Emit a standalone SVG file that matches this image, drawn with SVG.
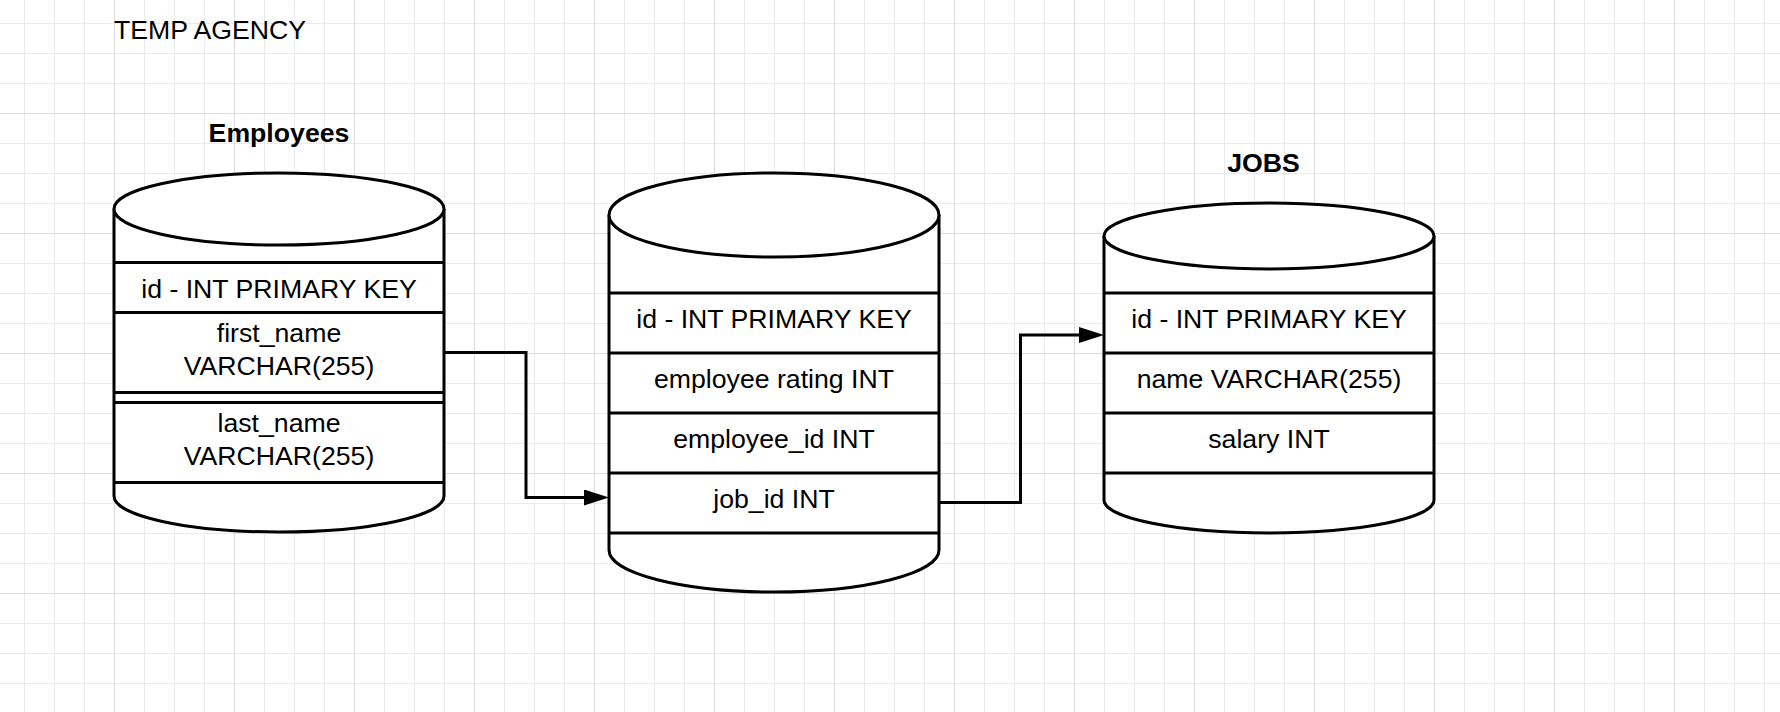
<svg xmlns="http://www.w3.org/2000/svg" width="1780" height="712" viewBox="0 0 1780 712">
  <defs>
    <pattern id="gridMinor" x="24" y="23" width="30" height="30" patternUnits="userSpaceOnUse">
      <path d="M0.5 0 V30 M0 0.5 H30" fill="none" stroke="#ebebeb" stroke-width="1"/>
    </pattern>
    <pattern id="gridMajor" x="114" y="113" width="120" height="120" patternUnits="userSpaceOnUse">
      <path d="M0.5 0 V120 M0 0.5 H120" fill="none" stroke="#dcdcdc" stroke-width="1"/>
    </pattern>
    <marker id="arrow" markerUnits="userSpaceOnUse" markerWidth="26" markerHeight="18" refX="0" refY="8" orient="auto">
      <path d="M0,0 L25,8 L0,16 Z" fill="#000"/>
    </marker>
    <style>
      .shape { fill: #ffffff; stroke: #000000; stroke-width: 3; }
      .row { stroke: #000000; stroke-width: 3; fill: none; }
      .t { font-family: "Liberation Sans", Arial, sans-serif; font-size: 26.67px; fill: #000000; text-anchor: middle; }
      .title { font-family: "Liberation Sans", Arial, sans-serif; font-size: 26.67px; font-weight: bold; fill: #000000; text-anchor: middle; }
      .conn { fill: none; stroke: #000000; stroke-width: 3; }
    </style>
  </defs>

  <rect x="0" y="0" width="1780" height="712" fill="#ffffff"/>
  <rect x="0" y="0" width="1780" height="712" fill="url(#gridMinor)"/>
  <rect x="0" y="0" width="1780" height="712" fill="url(#gridMajor)"/>

  <g id="heading">
    <text x="114" y="39" font-family="Liberation Sans, Arial, sans-serif" font-size="26.67" fill="#000">TEMP AGENCY</text>
  </g>

  <g id="employees">
    <text class="title" x="279" y="142">Employees</text>
    <path class="shape" d="M114,209 V496 A165,36 0 0 0 444,496 V209"/>
    <ellipse class="shape" cx="279" cy="209" rx="165" ry="36"/>
    <path class="row" d="M114,262.5 H444 M114,312.5 H444 M114,392.5 H444 M114,402.5 H444 M114,482.5 H444"/>
    <text class="t" x="279" y="297.5">id - INT PRIMARY KEY</text>
    <text class="t" x="279" y="341.7">first_name</text>
    <text class="t" x="279" y="375">VARCHAR(255)</text>
    <text class="t" x="279" y="431.7">last_name</text>
    <text class="t" x="279" y="465">VARCHAR(255)</text>
  </g>

  <g id="link-table">
    <path class="shape" d="M609,215 V550 A165,42 0 0 0 939,550 V215"/>
    <ellipse class="shape" cx="774" cy="215" rx="165" ry="42"/>
    <path class="row" d="M609,293 H939 M609,353 H939 M609,413 H939 M609,473 H939 M609,533 H939"/>
    <text class="t" x="774" y="328.3">id - INT PRIMARY KEY</text>
    <text class="t" x="774" y="388.3">employee rating INT</text>
    <text class="t" x="774" y="448.3">employee_id INT</text>
    <text class="t" x="774" y="508.3">job_id INT</text>
  </g>

  <g id="jobs">
    <text class="title" x="1263.5" y="172">JOBS</text>
    <path class="shape" d="M1104,236 V500 A165,33 0 0 0 1434,500 V236"/>
    <ellipse class="shape" cx="1269" cy="236" rx="165" ry="33"/>
    <path class="row" d="M1104,293 H1434 M1104,353 H1434 M1104,413 H1434 M1104,473 H1434"/>
    <text class="t" x="1269" y="328.3">id - INT PRIMARY KEY</text>
    <text class="t" x="1269" y="388.3">name VARCHAR(255)</text>
    <text class="t" x="1269" y="448.3">salary INT</text>
  </g>

  <g id="connectors">
    <path class="conn" d="M444,352.5 H526 V497.5 H584" marker-end="url(#arrow)"/>
    <path class="conn" d="M939,502.5 H1020.5 V335 H1079" marker-end="url(#arrow)"/>
  </g>
</svg>
